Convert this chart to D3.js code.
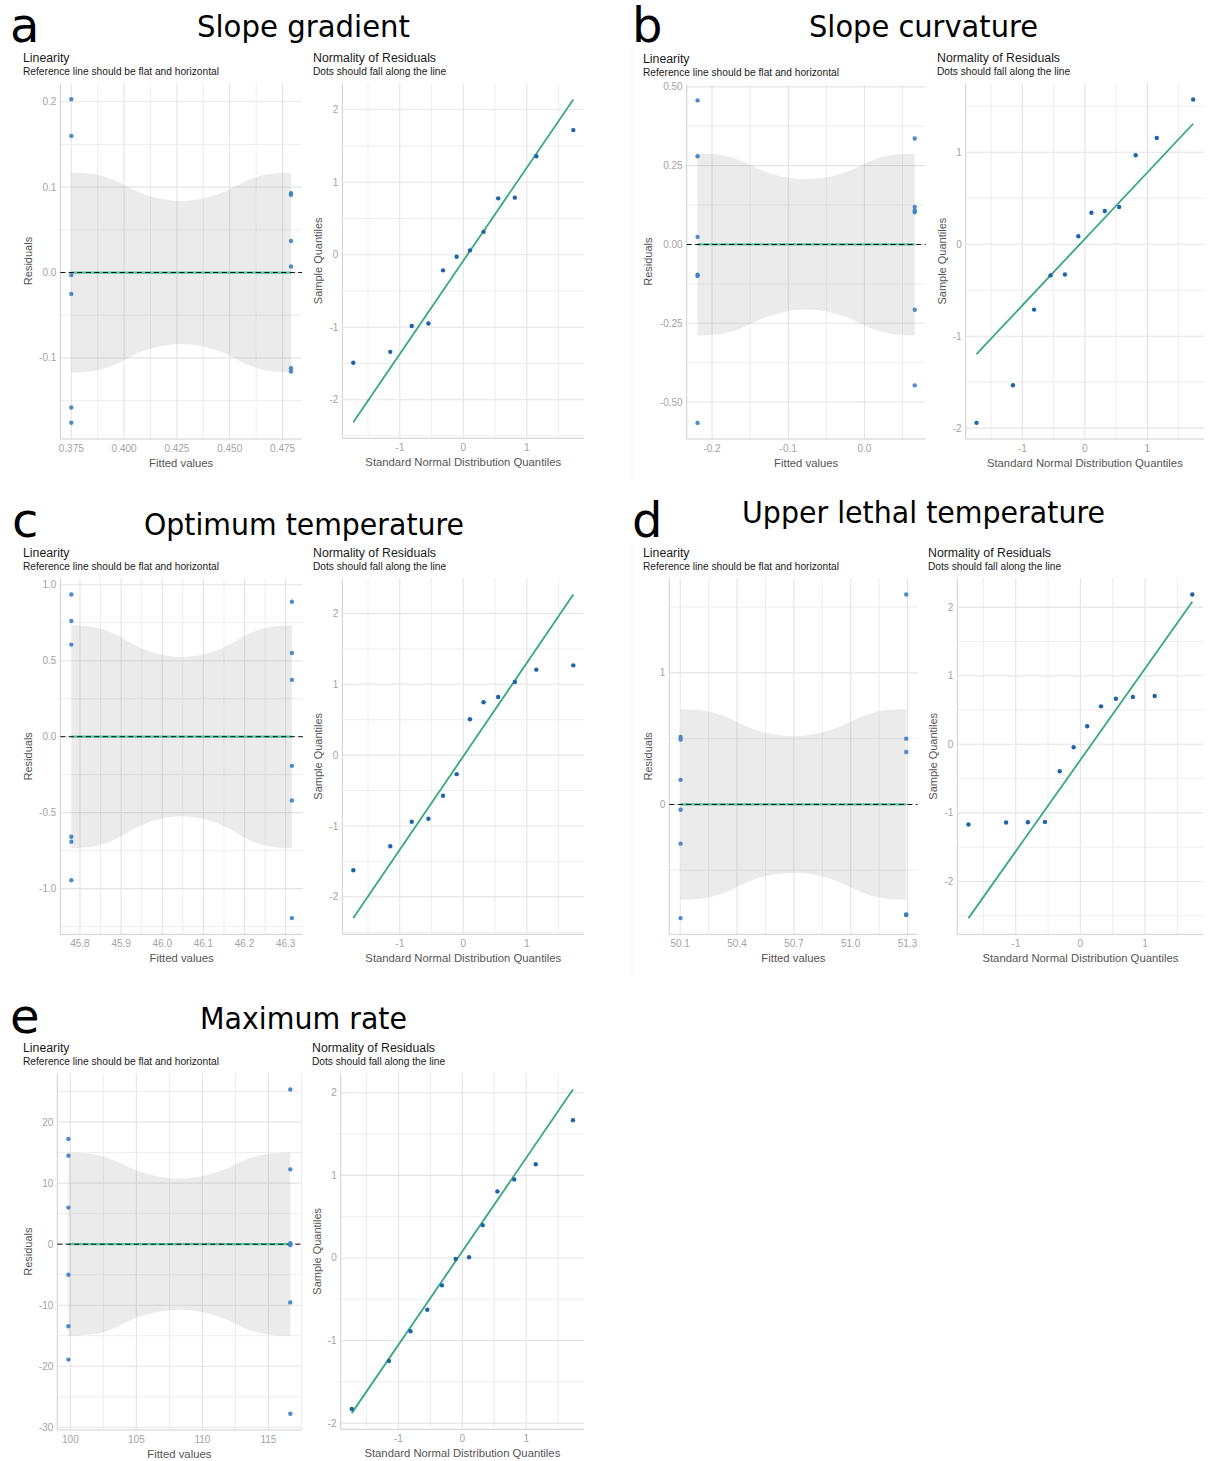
<!DOCTYPE html>
<html>
<head>
<meta charset="utf-8">
<script src="https://cdn.jsdelivr.net/npm/d3@7"></script>
<style>
  body { margin: 0; background: #fff; }
  text { font-family: "Liberation Sans", Arial, sans-serif; }
</style>
</head>
<body>
<div id="app"></div>
<script>
// shared values
const panelLetters = ['a', 'b', 'c', 'd', 'e'];
const panelTitles = ['Slope gradient', 'Slope curvature', 'Optimum temperature', 'Upper lethal temperature', 'Maximum rate'];
const theoQuantiles = [-1.732, -1.150, -0.812, -0.549, -0.319, -0.105, 0.105, 0.319, 0.549, 0.812, 1.150, 1.732];
// confidence band of the smooth, relative half-width across the fitted range
const bandT = [0, 0.1, 0.2, 0.3, 0.4, 0.5, 0.6, 0.7, 0.8, 0.9, 1];
const bandRel = [1, 0.985, 0.92, 0.81, 0.74, 0.715, 0.74, 0.81, 0.92, 0.985, 1];

// a. slope gradient
const gradFitted = [0.375, 0.375, 0.375, 0.375, 0.375, 0.375, 0.479, 0.479, 0.479, 0.479, 0.479, 0.479];
const gradResid = [0.203, 0.160, -0.003, -0.025, -0.158, -0.176, 0.093, 0.091, 0.037, 0.007, -0.112, -0.116];
const gradBand = 0.117;
const gradQQ = [-1.49, -1.34, -0.984, -0.948, -0.215, -0.027, 0.060, 0.316, 0.778, 0.788, 1.36, 1.72];
const gradQQLine = [-2.31, 2.143];
const gradXTicks = [0.375, 0.400, 0.425, 0.450, 0.475];
const gradYTicks = [-0.1, 0.0, 0.1, 0.2];
const gradQQTicks = [-2, -1, 0, 1, 2];

// b. slope curvature
const curvFitted = [-0.219, -0.219, -0.219, -0.219, -0.219, -0.219, 0.066, 0.066, 0.066, 0.066, 0.066, 0.066];
const curvResid = [0.457, 0.280, 0.024, -0.096, -0.100, -0.566, 0.336, 0.119, 0.108, 0.102, -0.207, -0.447];
const curvBand = 0.289;
const curvQQ = [-1.942, -1.534, -0.711, -0.339, -0.329, 0.087, 0.343, 0.361, 0.404, 0.968, 1.155, 1.574];
const curvQQLine = [-1.195, 1.310];
const curvXTicks = [-0.2, -0.1, 0.0];
const curvYTicks = [-0.50, -0.25, 0.00, 0.25, 0.50];
const curvQQTicks = [-2, -1, 0, 1];

// c. optimum temperature
const optFitted = [45.779, 45.779, 45.779, 45.779, 45.779, 45.779, 46.315, 46.315, 46.315, 46.315, 46.315, 46.315];
const optResid = [0.936, 0.761, 0.606, -0.658, -0.691, -0.945, 0.888, 0.551, 0.374, -0.192, -0.420, -1.194];
const optBand = 0.733;
const optQQ = [-1.624, -1.286, -0.939, -0.897, -0.573, -0.268, 0.507, 0.746, 0.822, 1.033, 1.207, 1.268];
const optQQLine = [-2.30, 2.268];
const optXTicks = [45.8, 45.9, 46.0, 46.1, 46.2, 46.3];
const optYTicks = [-1.0, -0.5, 0.0, 0.5, 1.0];
const optQQTicks = [-2, -1, 0, 1, 2];

// d. upper lethal temperature
const ultFitted = [50.102, 50.102, 50.102, 50.102, 50.102, 50.102, 51.293, 51.293, 51.293, 51.293, 51.293, 51.293];
const ultResid = [0.513, 0.493, 0.187, -0.040, -0.298, -0.864, 1.596, 0.500, 0.399, -0.838, -0.838, -0.838];
const ultBand = 0.725;
const ultQQ = [-1.170, -1.141, -1.136, -1.131, -0.393, -0.044, 0.262, 0.553, 0.665, 0.689, 0.704, 2.184];
const ultQQLine = [-2.534, 2.078];
const ultXTicks = [50.1, 50.4, 50.7, 51.0, 51.3];
const ultYTicks = [0, 1];
const ultQQTicks = [-2, -1, 0, 1, 2];

// e. maximum rate
const rateFitted = [99.85, 99.85, 99.85, 99.85, 99.85, 99.85, 116.66, 116.66, 116.66, 116.66, 116.66, 116.66];
const rateResid = [17.22, 14.50, 5.99, -5.01, -13.46, -18.91, 25.34, 12.26, 0.16, -0.16, -9.54, -27.79];
const rateBand = 15.04;
const rateQQ = [-1.830, -1.247, -0.887, -0.628, -0.332, -0.012, 0.008, 0.397, 0.806, 0.951, 1.134, 1.668];
const rateQQLine = [-1.879, 2.040];
const rateXTicks = [100, 105, 110, 115];
const rateYTicks = [-30, -20, -10, 0, 10, 20];
const rateQQTicks = [-2, -1, 0, 1, 2];

const qqXTicks = [-1, 0, 1];

const panels = [
  { fitted: gradFitted, resid: gradResid, band: gradBand, qq: gradQQ, qqLine: gradQQLine,
    xTicks: gradXTicks, yTicks: gradYTicks, qqTicks: gradQQTicks, xDec: 3, yDec: 1,
    lin: [60.3, 302, 83, 439], qqBox: [342.3, 584.3, 83.3, 438.3], linTitleX: 23, qqTitleX: 313,
    letter: [10, 42], title: [303.5, 37, 213] },
  { fitted: curvFitted, resid: curvResid, band: curvBand, qq: curvQQ, qqLine: curvQQLine,
    xTicks: curvXTicks, yTicks: curvYTicks, qqTicks: curvQQTicks, xDec: 1, yDec: 2,
    lin: [686.7, 925.6, 84.3, 439], qqBox: [965.7, 1204, 83.3, 439], linTitleX: 643, qqTitleX: 937,
    letter: [632, 42], title: [923.5, 37, 229], border: 632 },
  { fitted: optFitted, resid: optResid, band: optBand, qq: optQQ, qqLine: optQQLine,
    xTicks: optXTicks, yTicks: optYTicks, qqTicks: optQQTicks, xDec: 1, yDec: 1,
    lin: [60.3, 302.9, 578.3, 934.3], qqBox: [342.3, 584.3, 578.3, 934.3], linTitleX: 23, qqTitleX: 313,
    letter: [12, 537], title: [304, 535, 320] },
  { fitted: ultFitted, resid: ultResid, band: ultBand, qq: ultQQ, qqLine: ultQQLine,
    xTicks: ultXTicks, yTicks: ultYTicks, qqTicks: ultQQTicks, xDec: 1, yDec: 0,
    lin: [669.3, 917.5, 578.3, 934.3], qqBox: [957.3, 1203.5, 578.3, 934.3], linTitleX: 643, qqTitleX: 928,
    letter: [632, 537], title: [923.5, 523, 363], border: 632 },
  { fitted: rateFitted, resid: rateResid, band: rateBand, qq: rateQQ, qqLine: rateQQLine,
    xTicks: rateXTicks, yTicks: rateYTicks, qqTicks: rateQQTicks, xDec: 0, yDec: 0,
    lin: [57.3, 301.4, 1073.3, 1430], qqBox: [340.7, 584, 1073.3, 1429.3], linTitleX: 23, qqTitleX: 312,
    letter: [10, 1033], title: [303.5, 1029, 207] }
];

const W = 1208, H = 1461;
const tickColor = '#a3a3a3';
const axisTitleColor = '#555';
const gridMajor = '#e4e4e4';
const gridMinor = '#eeeeee';

const svg = d3.select('#app').append('svg')
  .attr('width', W)
  .attr('height', H)
  .style('display', 'block');

svg.append('rect').attr('width', W).attr('height', H).attr('fill', '#fff');

// ggplot-like 5% expansion of a data range
const expand = ext => {
  const pad = (ext[1] - ext[0]) * 0.05;
  return [ext[0] - pad, ext[1] + pad];
};

const minorsOf = (ticks, dom) => {
  const step = ticks[1] - ticks[0];
  const out = ticks.map(t => t - step / 2).concat([ticks[ticks.length - 1] + step / 2]);
  return out.filter(v => v > Math.min(...dom) && v < Math.max(...dom));
};

const fmt = dec => v => {
  const s = Math.abs(v).toFixed(dec);
  return (v < 0 && +s !== 0 ? '-' : '') + s;
};

// frame: grid, axis lines, tick labels, titles
const drawFrame = (g, x, y, xTicks, yTicks, fx, fy, title, subtitle, titleX, xLabel, yLabel) => {
  const [x0, x1] = x.range();
  const [y1, y0] = y.range();

  const grid = g.append('g');
  grid.selectAll('.vminor').data(minorsOf(xTicks, x.domain())).enter()
    .append('line')
      .attr('x1', d => x(d)).attr('x2', d => x(d))
      .attr('y1', y0).attr('y2', y1)
      .attr('stroke', gridMinor).attr('stroke-width', 1);
  grid.selectAll('.hminor').data(minorsOf(yTicks, y.domain())).enter()
    .append('line')
      .attr('x1', x0).attr('x2', x1)
      .attr('y1', d => y(d)).attr('y2', d => y(d))
      .attr('stroke', gridMinor).attr('stroke-width', 1);
  grid.selectAll('.vmajor').data(xTicks).enter()
    .append('line')
      .attr('x1', d => x(d)).attr('x2', d => x(d))
      .attr('y1', y0).attr('y2', y1)
      .attr('stroke', gridMajor).attr('stroke-width', 1.1);
  grid.selectAll('.hmajor').data(yTicks).enter()
    .append('line')
      .attr('x1', x0).attr('x2', x1)
      .attr('y1', d => y(d)).attr('y2', d => y(d))
      .attr('stroke', gridMajor).attr('stroke-width', 1.1);

  // axis lines
  g.append('line').attr('x1', x0).attr('x2', x0).attr('y1', y0).attr('y2', y1)
    .attr('stroke', '#cfcfcf').attr('stroke-width', 1);
  g.append('line').attr('x1', x0).attr('x2', x1).attr('y1', y1).attr('y2', y1)
    .attr('stroke', '#cfcfcf').attr('stroke-width', 1);

  // tick labels
  g.selectAll('.xt').data(xTicks).enter()
    .append('text')
      .attr('x', d => x(d)).attr('y', y1 + 13)
      .attr('text-anchor', 'middle')
      .attr('font-size', 10).attr('fill', tickColor)
      .text(fx);
  g.selectAll('.yt').data(yTicks).enter()
    .append('text')
      .attr('x', x0 - 4).attr('y', d => y(d)).attr('dy', '0.35em')
      .attr('text-anchor', 'end')
      .attr('font-size', 10).attr('fill', tickColor)
      .text(fy);

  // titles
  g.append('text').attr('x', titleX).attr('y', y0 - 21)
    .attr('font-size', 12.3).attr('fill', '#1a1a1a').text(title);
  g.append('text').attr('x', titleX).attr('y', y0 - 8)
    .attr('font-size', 10.2).attr('fill', '#1a1a1a').text(subtitle);

  g.append('text').attr('x', (x0 + x1) / 2).attr('y', y1 + 27.5)
    .attr('text-anchor', 'middle')
    .attr('font-size', 11.3).attr('fill', axisTitleColor).text(xLabel);
  g.append('text')
    .attr('transform', `translate(${titleX + 8.5}, ${(y0 + y1) / 2}) rotate(-90)`)
    .attr('text-anchor', 'middle')
    .attr('font-size', 11).attr('fill', axisTitleColor).text(yLabel);
};

panels.forEach((p, i) => {
  const g = svg.append('g');

  if (p.border) {
    g.append('line').attr('x1', p.border).attr('x2', p.border)
      .attr('y1', p.lin[2] - 35).attr('y2', p.lin[3] + 41)
      .attr('stroke', '#f0f0f0').attr('stroke-width', 1);
  }

  // panel letter and title
  g.append('text')
    .attr('x', p.letter[0]).attr('y', p.letter[1])
    .style('font-family', '"DejaVu Sans", sans-serif')
    .attr('font-size', 48).attr('fill', '#000')
    .text(panelLetters[i]);
  g.append('text')
    .attr('x', p.title[0]).attr('y', p.title[1])
    .attr('text-anchor', 'middle')
    .attr('textLength', p.title[2])
    .attr('lengthAdjust', 'spacingAndGlyphs')
    .style('font-family', '"DejaVu Sans", sans-serif')
    .attr('font-size', 30).attr('fill', '#000')
    .text(panelTitles[i]);

  // 1. linearity: residuals vs fitted
  const x = d3.scaleLinear().domain(expand(d3.extent(p.fitted))).range([p.lin[0], p.lin[1]]);
  const y = d3.scaleLinear().domain(expand(d3.extent(p.resid))).range([p.lin[3], p.lin[2]]);
  const lg = g.append('g');
  drawFrame(lg, x, y, p.xTicks, p.yTicks, fmt(p.xDec), fmt(p.yDec),
    'Linearity', 'Reference line should be flat and horizontal', p.linTitleX,
    'Fitted values', 'Residuals');

  const fx = d3.extent(p.fitted);
  const bandData = bandT.map((t, k) => [fx[0] + t * (fx[1] - fx[0]), bandRel[k] * p.band]);
  lg.append('path')
    .datum(bandData)
    .attr('d', d3.area()
      .x(d => x(d[0]))
      .y0(d => y(-d[1]))
      .y1(d => y(d[1]))
      .curve(d3.curveMonotoneX))
    .attr('fill', '#999').attr('fill-opacity', 0.2);

  lg.append('line')
    .attr('x1', x(fx[0])).attr('x2', x(fx[1]))
    .attr('y1', y(0)).attr('y2', y(0))
    .attr('stroke', '#55c49c').attr('stroke-width', 2.2);
  lg.append('line')
    .attr('x1', p.lin[0]).attr('x2', p.lin[1])
    .attr('y1', y(0)).attr('y2', y(0))
    .attr('stroke', '#111').attr('stroke-width', 1)
    .attr('stroke-dasharray', '5,3.5');

  lg.selectAll('circle')
    .data(p.fitted.map((f, k) => [f, p.resid[k]]))
    .enter()
      .append('circle')
      .attr('cx', d => x(d[0]))
      .attr('cy', d => y(d[1]))
      .attr('r', 2.2)
      .attr('fill', '#3a80c2')
      .attr('fill-opacity', 0.9);

  // 2. normality of residuals: qq plot
  const qx = d3.scaleLinear().domain(expand(d3.extent(theoQuantiles))).range([p.qqBox[0], p.qqBox[1]]);
  const qy = d3.scaleLinear().domain(expand(d3.extent(p.qq.concat(p.qqLine)))).range([p.qqBox[3], p.qqBox[2]]);
  const qg = g.append('g');
  drawFrame(qg, qx, qy, qqXTicks, p.qqTicks,
    fmt(0), fmt(0), 'Normality of Residuals', 'Dots should fall along the line', p.qqTitleX,
    'Standard Normal Distribution Quantiles', 'Sample Quantiles');

  const qEnds = [theoQuantiles[0], theoQuantiles[theoQuantiles.length - 1]];
  qg.append('line')
    .attr('x1', qx(qEnds[0])).attr('y1', qy(p.qqLine[0]))
    .attr('x2', qx(qEnds[1])).attr('y2', qy(p.qqLine[1]))
    .attr('stroke', '#36a97e').attr('stroke-width', 1.8);

  qg.selectAll('circle')
    .data(theoQuantiles.map((t, k) => [t, p.qq[k]]))
    .enter()
      .append('circle')
      .attr('cx', d => qx(d[0]))
      .attr('cy', d => qy(d[1]))
      .attr('r', 2.2)
      .attr('fill', '#1c63ab');
});
</script>
</body>
</html>
